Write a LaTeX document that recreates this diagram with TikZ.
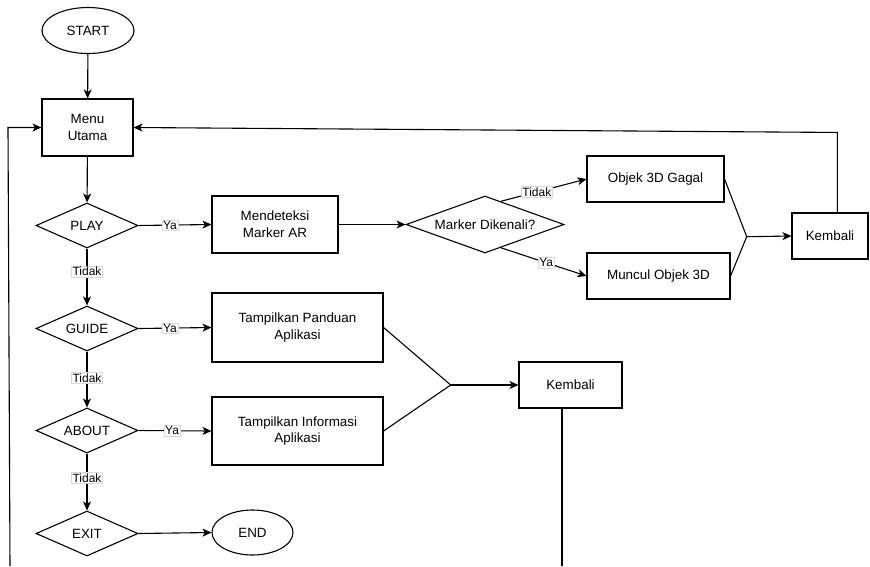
\documentclass[tikz,border=0pt]{standalone}
\usepackage{fontspec}
\setmainfont{Liberation Sans}
\usetikzlibrary{shapes.geometric,arrows.meta,calc}
\begin{document}
\begin{tikzpicture}[x=1pt,y=-1pt,
  every node/.style={font=\fontsize{13.4}{16.8}\selectfont, inner sep=0pt},
  line/.style={line width=1.1pt, draw=black},
  arr/.style={line, -{Stealth[length=9pt,width=8pt,inset=2.5pt]}},
  box/.style={draw, line width=1.1pt, rectangle, align=center},
  dia/.style={draw, line width=1.1pt, diamond, minimum width=102pt, minimum height=45pt, shape aspect=2.27},
  ell/.style={draw, line width=1.1pt, ellipse},
  lbl/.style={fill=white, draw=gray!30, line width=0.4pt, inner sep=1pt, font=\fontsize{12}{13}\selectfont}]
\useasboundingbox (0,0) rectangle (870,566);

\node[ell, minimum width=92pt, minimum height=46pt] (start) at (88,30.5) {START};
\node[box, minimum width=91pt, minimum height=57pt] (menu) at (87.5,127.5) {Menu\\Utama};
\node[dia] (play) at (87,225.5) {PLAY};
\node[box, minimum width=126pt, minimum height=57pt] (detect) at (275,224.5) {Mendeteksi\\Marker AR};
\node[draw, line width=1.1pt, diamond, minimum width=158pt, minimum height=57pt, shape aspect=2.77] (marker) at (485,224.5) {Marker Dikenali?};
\node[box, minimum width=137pt, minimum height=46pt] (gagal) at (655.5,179) {Objek 3D Gagal};
\node[box, minimum width=143pt, minimum height=46pt] (muncul) at (658.5,276) {Muncul Objek 3D};
\node[box, minimum width=76pt, minimum height=46pt] (kem1) at (830,236) {Kembali};
\node[dia] (guide) at (87,328.5) {GUIDE};
\node[box, minimum width=171pt, minimum height=69pt] (panduan) at (297.5,327.5) {Tampilkan Panduan\\Aplikasi};
\node[box, minimum width=103pt, minimum height=46pt] (kem2) at (570.5,385) {Kembali};
\node[dia] (about) at (87,430.5) {ABOUT};
\node[box, minimum width=171pt, minimum height=68pt] (info) at (297.5,431) {Tampilkan Informasi\\Aplikasi};
\node[dia] (exit) at (87,533.5) {EXIT};
\node[ell, minimum width=81pt, minimum height=45pt] (end) at (252.5,532.5) {END};

\coordinate (m1) at (746.7,236.7);
\coordinate (m2) at (450.7,385);
\coordinate (bl) at (10,566);
\coordinate (tl) at (8,127.5);
\coordinate (bk) at (562,566);

\draw[arr] (start) -- (menu);
\draw[arr] (menu) -- (play);
\draw[arr] (play.east) -- node[lbl, pos=0.43]{Ya} (detect.west);
\draw[arr] (play.south) -- node[lbl, pos=0.4]{Tidak} (guide.north);
\draw[arr] (guide.east) -- node[lbl, pos=0.43]{Ya} (panduan.west);
\draw[arr] (guide.south) -- node[lbl, pos=0.47]{Tidak} (about.north);
\draw[arr] (about.east) -- node[lbl, pos=0.46]{Ya} (info.west);
\draw[arr] (about.south) -- node[lbl, pos=0.43]{Tidak} (exit.north);
\draw[arr] (exit.east) -- (end.west);
\draw[arr] (detect.east) -- (marker.west);
\draw[arr] ($(marker.north)!0.2!(marker.east)$) -- node[lbl, pos=0.42]{Tidak} (gagal.west);
\draw[arr] ($(marker.south)!0.2!(marker.east)$) -- node[lbl, pos=0.53]{Ya} (muncul.west);
\draw[line] (gagal.east) -- (m1);
\draw[line] (muncul.east) -- (m1);
\draw[arr] (m1) -- (kem1.west);
\draw[arr] ($(kem1.north)+(7.3,0)$) -- ++(0,-80) -- (menu.east);
\draw[line] (panduan.east) -- (m2);
\draw[line] (info.east) -- (m2);
\draw[arr] (m2) -- (kem2.west);
\draw[line] (kem2.south -| bk) -- (bk);
\draw[arr] (bl) -- (tl) -- (menu.west);
\end{tikzpicture}
\end{document}
